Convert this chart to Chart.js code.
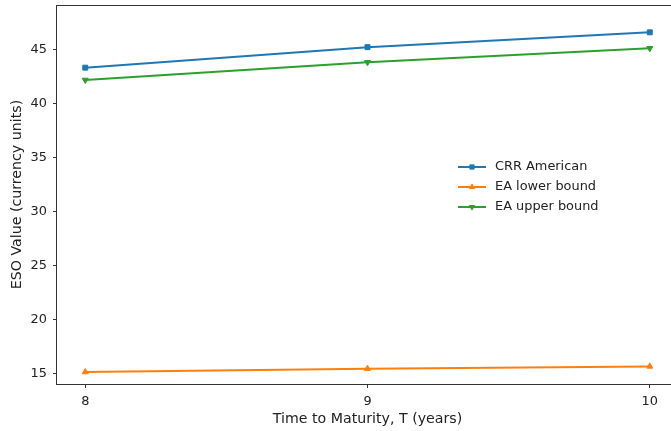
<!DOCTYPE html>
<html>
<head>
<meta charset="utf-8">
<script src="https://cdn.jsdelivr.net/npm/chart.js@4"></script>
<style>
  html, body { margin: 0; padding: 0; background: #fff; overflow: hidden; }
  canvas { display: block; }
</style>
</head>
<body>
<canvas id="c" width="683" height="431"></canvas>
<script>
// Time to maturity (years)
const maturities = [8, 9, 10];
// ESO values for each method
const crrAmerican = [43.30, 45.20, 46.57];
const eaLower = [15.13, 15.44, 15.65];
const eaUpper = [42.16, 43.80, 45.09];
const seriesNames = ['CRR American', 'EA lower bound', 'EA upper bound'];
const xTicks = [8, 9, 10];
const yTicks = [15, 20, 25, 30, 35, 40, 45];

const FONT = 'DejaVu Sans, sans-serif';
const TEXT = '#222';
const TICK_SIZE = 12.9;
const TITLE_SIZE = 14.2;

function pts(vals) { return maturities.map((m, i) => ({ x: m, y: vals[i] })); }

// Box around the plotting area (all four spines)
const frame = {
  id: 'frame',
  afterDatasetsDraw(chart) {
    const { ctx, chartArea: a } = chart;
    ctx.save();
    ctx.strokeStyle = '#333';
    ctx.lineWidth = 1;
    ctx.strokeRect(Math.round(a.left) - 0.5, Math.round(a.top) + 0.5,
                   Math.round(a.right - a.left), Math.round(a.bottom - a.top));
    ctx.restore();
  }
};

// Legend drawn inside the axes, right of centre
const innerLegend = {
  id: 'innerLegend',
  afterDraw(chart) {
    const { ctx } = chart;
    const x0 = 458, y0 = 167, gap = 20;
    ctx.save();
    ctx.font = TICK_SIZE + 'px ' + FONT;
    ctx.textBaseline = 'middle';
    chart.data.datasets.forEach((ds, i) => {
      const y = y0 + i * gap;
      ctx.strokeStyle = ds.borderColor;
      ctx.lineWidth = 2;
      ctx.beginPath();
      ctx.moveTo(x0, y);
      ctx.lineTo(x0 + 28, y);
      ctx.stroke();
      ctx.fillStyle = ds.borderColor;
      ctx.lineWidth = 1;
      Chart.helpers.drawPoint(ctx, {
        pointStyle: ds.pointStyle,
        rotation: ds.pointRotation || 0,
        radius: 3,
        borderWidth: 1
      }, x0 + 14, y);
      ctx.fillStyle = TEXT;
      ctx.fillText(ds.label, x0 + 37, y);
    });
    ctx.restore();
  }
};

function series(label, vals, color, style, rot) {
  return {
    label,
    data: pts(vals),
    borderColor: color,
    backgroundColor: color,
    borderWidth: 2,
    pointStyle: style,
    pointRotation: rot || 0,
    pointRadius: 3.5,
    pointBorderWidth: 1,
    tension: 0
  };
}

new Chart(document.getElementById('c'), {
  type: 'line',
  data: {
    datasets: [
      series(seriesNames[0], crrAmerican, '#1f77b4', 'rect'),
      series(seriesNames[1], eaLower, '#ff7f0e', 'triangle'),
      series(seriesNames[2], eaUpper, '#2ca02c', 'triangle', 180)
    ]
  },
  options: {
    responsive: false,
    animation: false,
    layout: { padding: { top: 5, right: 3, left: 0, bottom: 0 } },
    plugins: { legend: { display: false }, tooltip: { enabled: false } },
    scales: {
      x: {
        type: 'linear',
        min: 7.9,
        max: 10.1,
        afterBuildTicks: s => { s.ticks = xTicks.map(v => ({ value: v })); },
        afterFit: s => { s.height = 47; s.paddingLeft = 0; s.paddingRight = 0; },
        grid: { display: true, drawOnChartArea: false, drawTicks: true, tickLength: 4, color: '#333' },
        border: { display: false },
        ticks: { color: TEXT, font: { family: FONT, size: TICK_SIZE }, padding: 5.5, maxRotation: 0 },
        title: { display: true, text: 'Time to Maturity, T (years)', color: TEXT,
                 font: { family: FONT, size: TITLE_SIZE }, padding: { top: 0, bottom: 3.5 } }
      },
      y: {
        min: 14.02,
        max: 49.1,
        afterBuildTicks: s => { s.ticks = yTicks.map(v => ({ value: v })); },
        afterFit: s => { s.width = 57; s.paddingTop = 0; s.paddingBottom = 0; },
        grid: { display: true, drawOnChartArea: false, drawTicks: true, tickLength: 4, color: '#333' },
        border: { display: false },
        ticks: { color: TEXT, font: { family: FONT, size: TICK_SIZE }, padding: 6 },
        title: { display: true, text: 'ESO Value (currency units)', color: TEXT,
                 font: { family: FONT, size: TITLE_SIZE }, padding: { top: 8.5, bottom: 0 } }
      }
    }
  },
  plugins: [frame, innerLegend]
});
</script>
</body>
</html>
